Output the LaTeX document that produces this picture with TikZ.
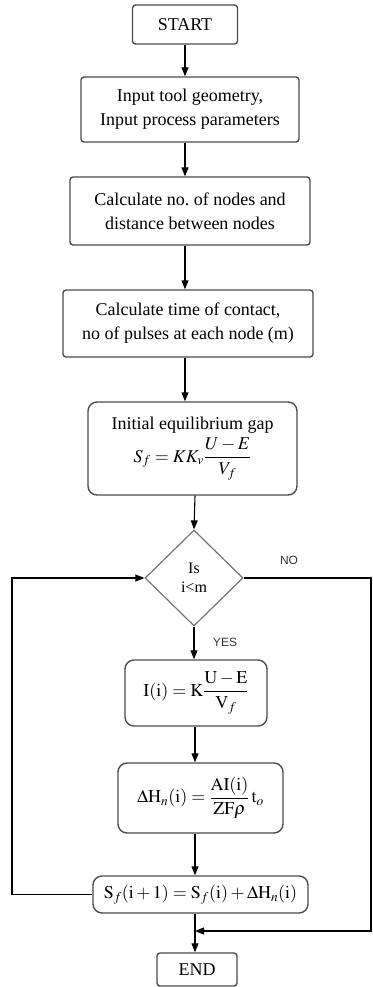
\documentclass[tikz,border=0pt]{standalone}
\usepackage{amsmath}
\usepackage{mathptmx}
\usepackage[no-math]{fontspec}
\setmainfont{Liberation Serif}
\setsansfont{Liberation Sans}
\usetikzlibrary{shapes.geometric,arrows.meta}

\begin{document}
\begin{tikzpicture}[x=1pt, y=-1pt, box/.style={draw=black!70, line width=1.4pt, rounded corners=3pt, align=center, inner sep=2pt, font=\fontsize{18}{24}\selectfont}, rbox/.style={box, rounded corners=9pt}, dec/.style={diamond, draw=black!55, line width=1.2pt, inner sep=0pt, minimum width=98pt, minimum height=96pt, align=center, font=\fontsize{16}{19}\selectfont}, lbl/.style={font=\sffamily\fontsize{12}{12}\selectfont, text=black!80}, n/.style={-{Triangle[length=9pt,width=7pt]}, line width=1.1pt}, p/.style={line width=1.1pt}]
            \useasboundingbox (0,0) rectangle (372,987);
            % nodes
            \node[box, minimum width=105pt, minimum height=39pt] (start) at (185,24.5) {START};
            \node[box, minimum width=218pt, minimum height=65pt] (input) at (190,109.5) {Input tool geometry,\\Input process parameters};
            \node[box, minimum width=240pt, minimum height=68pt] (nodes) at (190,211) {Calculate no.\ of nodes and\\distance between nodes};
            \node[box, minimum width=250pt, minimum height=67pt] (contact) at (188,323.5) {Calculate time of contact,\\no of pulses at each node (m)};
            \node[rbox, minimum width=209pt, minimum height=93pt] (gap) at (192.5,448.5) {Initial equilibrium gap\\[4pt]$S_f = KK_v\dfrac{U-E}{V_f}$};
            \node[dec] (check) at (194,578) {Is\\i<m};
            \node[rbox, minimum width=142pt, minimum height=66pt] (current) at (196,693) {$\mathrm{I(i)} = \mathrm{K}\dfrac{\mathrm{U-E}}{\mathrm{V}_f}$};
            \node[rbox, minimum width=165pt, minimum height=70pt] (dh) at (200.5,798) {$\Delta\mathrm{H}_n\mathrm{(i)} = \dfrac{\mathrm{AI(i)}}{\mathrm{ZF}\rho}\,\mathrm{t}_o$};
            \node[rbox, minimum width=215pt, minimum height=37pt] (update) at (200.5,894.5) {$\mathrm{S}_f\mathrm{(i+1)} = \mathrm{S}_f\mathrm{(i)} + \Delta\mathrm{H}_n\mathrm{(i)}$};
            \node[box, minimum width=80pt, minimum height=33pt] (end) at (197,969.5) {END};
            \node[lbl] (yes) at (225,642) {YES};
            \node[lbl] (no) at (289,560) {NO};
            \coordinate (colA) at (185,0);
            \coordinate (colB) at (195,0);
            \coordinate (back) at (12,578);
            \coordinate (rail) at (371,578);
            \coordinate (railb) at (371,931);
            \coordinate (join) at (195,931);
            % edges
            \draw[n] (start.south -| colA) -- (input.north -| colA);
            \draw[n] (input.south -| colA) -- (nodes.north -| colA);
            \draw[n] (nodes.south -| colA) -- (contact.north -| colA);
            \draw[n] (contact.south -| colA) -- (gap.north -| colA);
            \draw[n] (gap.south -| colB) -- (check.north);
            \draw[n] (check.south) -- (current.north -| check.south);
            \draw[n] (current.south -| colB) -- (dh.north -| colB);
            \draw[n] (dh.south -| colB) -- (update.north -| colB);
            \draw[n] (update.south -| colB) -- (end.north -| colB);
            \draw[n] (update.west) -| (back) -- (check.west);
            \draw[n] (check.east) -- (rail) -- (railb) -- (join);
        \end{tikzpicture}
\end{document}
